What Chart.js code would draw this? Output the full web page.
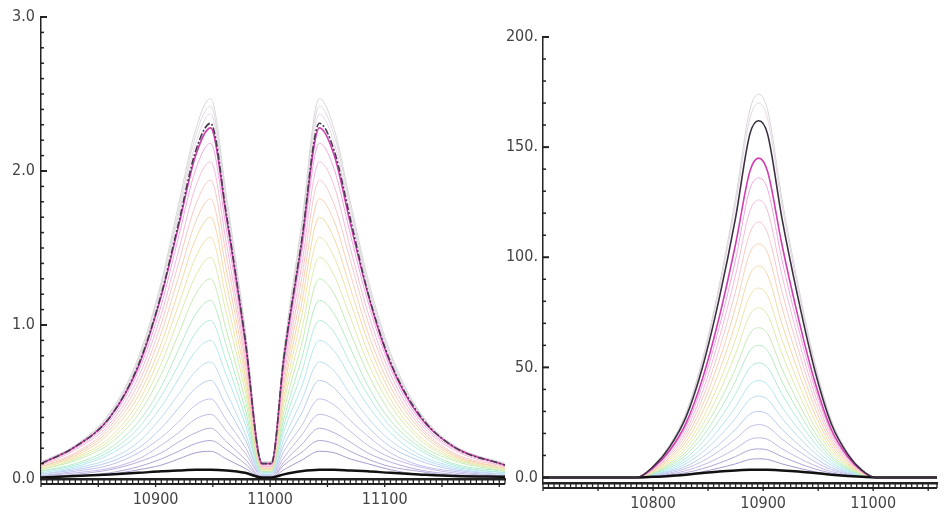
<!DOCTYPE html>
<html>
<head>
<meta charset="utf-8">
<script src="https://cdn.jsdelivr.net/npm/chart.js@4.4.1/dist/chart.umd.min.js"></script>
<style>
  body { margin: 0; background: #fff; }
  #wrap { position: relative; width: 948px; height: 523px; overflow: hidden; }
  #left { position: absolute; left: 0; top: 0; }
  #right { position: absolute; left: 500px; top: 0; }
</style>
</head>
<body>
<div id="wrap">
  <canvas id="left" width="516" height="523"></canvas>
  <canvas id="right" width="448" height="523"></canvas>
</div>
<script>
// ---- left panel: two peaks with a dip near 11000 ----
const leftX = [10800, 10830, 10860, 10885, 10905, 10920, 10935, 10948, 10962, 10978, 10993,
               11001, 11012, 11027, 11043, 11056, 11070, 11085, 11105, 11130, 11160, 11205];
const L01 = [0.11,0.22,0.43,0.79,1.28,1.78,2.27,2.47,1.83,0.99,0.11,0.11,0.84,1.63,2.47,2.27,1.80,1.31,0.82,0.44,0.22,0.10];
const L02 = [0.11,0.22,0.42,0.77,1.26,1.74,2.23,2.42,1.79,0.97,0.11,0.11,0.82,1.60,2.42,2.23,1.77,1.28,0.80,0.44,0.22,0.10];
const L03 = [0.11,0.21,0.41,0.76,1.23,1.71,2.18,2.37,1.75,0.95,0.11,0.11,0.81,1.56,2.37,2.18,1.73,1.26,0.78,0.43,0.21,0.09];
const L04 = [0.10,0.21,0.40,0.74,1.20,1.66,2.13,2.31,1.71,0.92,0.10,0.10,0.79,1.52,2.31,2.13,1.69,1.22,0.76,0.42,0.21,0.09];
const L05 = [0.10,0.21,0.40,0.73,1.19,1.64,2.10,2.28,1.69,0.91,0.10,0.10,0.78,1.50,2.28,2.10,1.66,1.21,0.75,0.41,0.21,0.09];
const L06 = [0.10,0.20,0.38,0.70,1.13,1.57,2.01,2.18,1.61,0.87,0.09,0.09,0.74,1.44,2.18,2.01,1.59,1.16,0.72,0.39,0.20,0.09];
const L07 = [0.09,0.19,0.36,0.66,1.07,1.48,1.90,2.06,1.52,0.82,0.08,0.08,0.70,1.36,2.06,1.90,1.50,1.09,0.68,0.37,0.19,0.08];
const L08 = [0.09,0.17,0.34,0.62,1.01,1.40,1.78,1.94,1.44,0.78,0.08,0.08,0.66,1.28,1.94,1.78,1.42,1.03,0.64,0.35,0.17,0.08];
const L09 = [0.08,0.16,0.32,0.58,0.95,1.31,1.67,1.82,1.35,0.73,0.07,0.07,0.62,1.20,1.82,1.67,1.33,0.96,0.60,0.33,0.16,0.07];
const L10 = [0.08,0.15,0.30,0.54,0.88,1.22,1.56,1.70,1.26,0.68,0.07,0.07,0.58,1.12,1.70,1.56,1.24,0.90,0.56,0.31,0.15,0.07];
const L11 = [0.07,0.14,0.27,0.50,0.82,1.13,1.44,1.57,1.16,0.63,0.06,0.06,0.53,1.04,1.57,1.44,1.15,0.83,0.52,0.28,0.14,0.06];
const L12 = [0.06,0.13,0.25,0.46,0.75,1.04,1.32,1.44,1.07,0.58,0.06,0.06,0.49,0.95,1.44,1.32,1.05,0.76,0.48,0.26,0.13,0.06];
const L13 = [0.06,0.12,0.23,0.42,0.68,0.94,1.20,1.30,0.96,0.52,0.05,0.05,0.44,0.86,1.30,1.20,0.95,0.69,0.43,0.23,0.12,0.05];
const L14 = [0.05,0.10,0.20,0.37,0.60,0.84,1.07,1.16,0.86,0.46,0.05,0.05,0.39,0.77,1.16,1.07,0.85,0.61,0.38,0.21,0.10,0.05];
const L15 = [0.05,0.09,0.18,0.33,0.54,0.74,0.95,1.03,0.76,0.41,0.04,0.04,0.35,0.68,1.03,0.95,0.75,0.55,0.34,0.19,0.09,0.04];
const L16 = [0.04,0.08,0.16,0.29,0.47,0.65,0.83,0.90,0.67,0.36,0.04,0.04,0.31,0.59,0.90,0.83,0.66,0.48,0.30,0.16,0.08,0.04];
const L17 = [0.03,0.07,0.13,0.24,0.40,0.55,0.70,0.76,0.56,0.30,0.03,0.03,0.26,0.50,0.76,0.70,0.55,0.40,0.25,0.14,0.07,0.03];
const L18 = [0.03,0.06,0.11,0.20,0.33,0.46,0.59,0.64,0.47,0.26,0.03,0.03,0.22,0.42,0.64,0.59,0.47,0.34,0.21,0.12,0.06,0.03];
const L19 = [0.02,0.05,0.09,0.17,0.27,0.37,0.48,0.52,0.38,0.21,0.02,0.02,0.18,0.34,0.52,0.48,0.38,0.28,0.17,0.09,0.05,0.02];
const L20 = [0.02,0.04,0.07,0.13,0.22,0.30,0.39,0.42,0.31,0.17,0.02,0.02,0.14,0.28,0.42,0.39,0.31,0.22,0.14,0.08,0.04,0.02];
const L21 = [0.01,0.03,0.06,0.11,0.17,0.24,0.30,0.33,0.24,0.13,0.01,0.01,0.11,0.22,0.33,0.30,0.24,0.17,0.11,0.06,0.03,0.01];
const L22 = [0.01,0.02,0.04,0.08,0.13,0.18,0.23,0.25,0.19,0.10,0.01,0.01,0.09,0.17,0.25,0.23,0.18,0.13,0.08,0.05,0.02,0.01];
const L23 = [0.01,0.02,0.03,0.06,0.09,0.13,0.17,0.18,0.13,0.07,0.01,0.01,0.06,0.12,0.18,0.17,0.13,0.10,0.06,0.03,0.02,0.01];
const L24 = [0.01,0.02,0.03,0.04,0.05,0.055,0.06,0.06,0.055,0.04,0.01,0.01,0.03,0.05,0.06,0.06,0.055,0.05,0.04,0.03,0.02,0.015];
const leftXTicks = [10900, 11000, 11100];
const leftYTicks = [0, 1, 2, 3];
const leftYLabels = ['0.0', '1.0', '2.0', '3.0'];

// ---- right panel: single peak near 10900 ----
const rightX = [10700, 10785, 10800, 10815, 10830, 10845, 10860, 10875, 10888, 10896,
                10904, 10917, 10932, 10947, 10962, 10977, 10990, 11002, 11058];
const R01 = [0,0,5.2,14.8,29.6,53.9,87,127,167,174,167,127,87,52.2,26.1,11.3,3.5,0,0];
const R02 = [0,0,5.1,14.5,28.9,52.7,85,124,163,170,163,124,85,51,25.5,11,3.4,0,0];
const R03 = [0,0,4.9,13.8,27.5,50.2,81,118,156,162,156,118,81,48.6,24.3,10.5,3.2,0,0];
const R04 = [0,0,4.4,12.3,24.7,45,72.5,106,139,145,139,106,72.5,43.5,21.8,9.4,2.9,0,0];
const R05 = [0,0,4.1,11.6,23.1,42.2,68,99,131,136,131,99,68,40.8,20.4,8.8,2.7,0,0];
const R06 = [0,0,3.8,10.7,21.4,39.1,63,92,121,126,121,92,63,37.8,18.9,8.2,2.5,0,0];
const R07 = [0,0,3.5,9.9,19.7,36,58,84.7,111,116,111,84.7,58,34.8,17.4,7.5,2.3,0,0];
const R08 = [0,0,3.2,9,18,32.9,53,77.4,102,106,102,77.4,53,31.8,15.9,6.9,2.1,0,0];
const R09 = [0,0,2.9,8.2,16.3,29.8,48,70,92,96,92,70,48,28.8,14.4,6.2,1.9,0,0];
const R10 = [0,0,2.6,7.3,14.6,26.7,43,62.8,82.6,86,82.6,62.8,43,25.8,12.9,5.6,1.7,0,0];
const R11 = [0,0,2.3,6.5,13.1,23.9,38.5,56.2,73.9,77,73.9,56.2,38.5,23.1,11.6,5,1.5,0,0];
const R12 = [0,0,2,5.8,11.6,21.1,34,49.6,65.3,68,65.3,49.6,34,20.4,10.2,4.4,1.4,0,0];
const R13 = [0,0,1.8,5.1,10.2,18.6,30,43.8,57.6,60,57.6,43.8,30,18,9,3.9,1.2,0,0];
const R14 = [0,0,1.6,4.4,8.8,16.1,26,38,49.9,52,49.9,38,26,15.6,7.8,3.4,1,0,0];
const R15 = [0,0,1.3,3.7,7.5,13.6,22,32.1,42.2,44,42.2,32.1,22,13.2,6.6,2.9,0.9,0,0];
const R16 = [0,0,1.1,3.1,6.3,11.5,18.5,27,35.5,37,35.5,27,18.5,11.1,5.6,2.4,0.7,0,0];
const R17 = [0,0,0.9,2.6,5.1,9.3,15,21.9,28.8,30,28.8,21.9,15,9,4.5,2,0.6,0,0];
const R18 = [0,0,0.7,2,4.1,7.4,12,17.5,23,24,23,17.5,12,7.2,3.6,1.6,0.5,0,0];
const R19 = [0,0,0.5,1.5,3.1,5.6,9,13.1,17.3,18,17.3,13.1,9,5.4,2.7,1.2,0.4,0,0];
const R20 = [0,0,0.4,1.1,2.2,4,6.5,9.5,12.5,13,12.5,9.5,6.5,3.9,2,0.8,0.3,0,0];
const R21 = [0,0,0.3,0.7,1.4,2.6,4.3,6.2,8.2,8.5,8.2,6.2,4.3,2.6,1.3,0.6,0.2,0,0];
const R22 = [0,0,0.3,0.7,1.3,2,2.7,3.2,3.5,3.5,3.5,3.2,2.7,2,1.3,0.7,0.3,0,0];
const rightXTicks = [10800, 10900, 11000];
const rightYTicks = [0, 50, 100, 150, 200];
const rightYLabels = ['0.0', '50.', '100.', '150.', '200.'];

// line colours, top curve to bottom curve
const leftColors = ['#d6d6d6', '#dedade', '#e6d6e6', '#4a3a50', '#d040b0', '#f0a8dc', '#f4bcd8',
  '#f8c8c8', '#f8d0b4', '#f4d8a8', '#eee4a8', '#dcecac', '#c4ecb4', '#b4ecc4', '#b0ecdc',
  '#b4e6f0', '#bcdcf4', '#b8ccf0', '#c0c0ec', '#c4b8e4', '#b8acdc', '#b0a4d4', '#a898cc', '#111111'];
const rightColors = ['#d6d6d6', '#e2d8e2', '#3a3040', '#d040b0', '#f0a8dc', '#f4bcd8',
  '#f8c8c8', '#f8d0b4', '#f4d8a8', '#eee4a8', '#dcecac', '#c4ecb4', '#b4ecc4', '#b0ecdc',
  '#b4e6f0', '#bcdcf4', '#b8ccf0', '#c0c0ec', '#c4b8e4', '#b0a4d4', '#a898cc', '#111111'];

const leftCurves = [L01, L02, L03, L04, L05, L06, L07, L08, L09, L10, L11, L12,
                    L13, L14, L15, L16, L17, L18, L19, L20, L21, L22, L23, L24];
const rightCurves = [R01, R02, R03, R04, R05, R06, R07, R08, R09, R10, R11,
                     R12, R13, R14, R15, R16, R17, R18, R19, R20, R21, R22];

const FONT = "'Liberation Sans Narrow', 'DejaVu Sans Condensed', 'Liberation Sans', sans-serif";

// inward y ticks and the dense x tick band under the axis
const axisMarks = {
  id: 'axisMarks',
  afterDraw(chart, args, opts) {
    const ctx = chart.ctx, xs = chart.scales.x, ys = chart.scales.y;
    ctx.save();
    ctx.strokeStyle = '#222';
    ys.ticks.forEach(t => {
      if (t.value < 0) return;
      const py = ys.getPixelForValue(t.value);
      const major = opts.yMajor.some(m => Math.abs(m - t.value) < 1e-6);
      ctx.lineWidth = major ? 2 : 1.5;
      ctx.beginPath();
      ctx.moveTo(ys.right, py);
      ctx.lineTo(ys.right + (major ? 6 : 3), py);
      ctx.stroke();
    });
    const top = xs.top, bot = xs.top + 5;
    ctx.lineWidth = 1.3;
    xs.ticks.forEach(t => {
      const px = xs.getPixelForValue(t.value);
      const major = t.value % 50 === 0;
      ctx.beginPath();
      ctx.moveTo(px, top);
      ctx.lineTo(px, major ? bot + 3 : bot);
      ctx.stroke();
    });
    ctx.lineWidth = 2;
    ctx.beginPath();
    ctx.moveTo(xs.left, bot);
    ctx.lineTo(xs.right, bot);
    ctx.stroke();
    ctx.restore();
  }
};

function makeDatasets(xs, curves, colors, darkIdx, magIdx) {
  return curves.map((ys, i) => {
    const last = i === curves.length - 1;
    return {
      data: ys.map((v, j) => ({ x: xs[j], y: v })),
      borderColor: colors[i],
      borderWidth: last ? 2.5 : (i === darkIdx || i === magIdx ? 1.6 : 1),
      borderDash: i === darkIdx && darkIdx === 3 ? [7, 2, 2, 2] : [],
      pointRadius: 0,
      fill: false,
      cubicInterpolationMode: 'monotone',
      order: (last || i === darkIdx) ? 0 : (i === magIdx ? 1 : 2)
    };
  });
}

function labelFrom(ticks, labels) {
  return v => {
    const i = ticks.findIndex(t => Math.abs(t - v) < 1e-6);
    return i >= 0 ? labels[i] : '';
  };
}

function makeChart(id, xs, curves, colors, cfg) {
  return new Chart(document.getElementById(id), {
    type: 'line',
    data: { datasets: makeDatasets(xs, curves, colors, cfg.darkIdx, cfg.magIdx) },
    options: {
      responsive: false,
      animation: false,
      devicePixelRatio: 1,
      layout: { padding: { top: cfg.padTop, right: cfg.padRight, left: 0, bottom: 0 } },
      plugins: { legend: { display: false }, tooltip: { enabled: false },
                 axisMarks: { yMajor: cfg.yTicks } },
      scales: {
        x: {
          type: 'linear', min: cfg.xMin, max: cfg.xMax,
          afterFit: s => { s.height = cfg.xHeight; },
          grid: { drawOnChartArea: false, drawTicks: false },
          border: { display: true, color: '#222', width: 2.5 },
          ticks: {
            stepSize: 5, autoSkip: false, maxRotation: 0, minRotation: 0, padding: 11,
            color: '#444', font: { family: FONT, size: 16 },
            callback: v => (cfg.xTicks.includes(v) ? String(v) : '')
          }
        },
        y: {
          min: cfg.yMin, max: cfg.yMax,
          afterFit: s => { s.width = cfg.yWidth; },
          // minor ticks from zero up to the top label
          afterBuildTicks: s => {
            const t = [];
            const n = Math.round(cfg.yMax / cfg.yStep);
            for (let k = 0; k <= n; k++) t.push({ value: +(k * cfg.yStep).toFixed(4) });
            s.ticks = t;
          },
          grid: { drawOnChartArea: false, drawTicks: false },
          border: { display: true, color: '#222', width: 1.5 },
          ticks: {
            autoSkip: false, padding: cfg.yPad,
            color: '#444', font: { family: FONT, size: 16 },
            callback: labelFrom(cfg.yTicks, cfg.yLabels)
          }
        }
      }
    },
    plugins: [axisMarks]
  });
}

makeChart('left', leftX, leftCurves, leftColors, {
  darkIdx: 3, magIdx: 4, padTop: 17, padRight: 3, xMin: 10800, xMax: 11205,
  xHeight: 44, yMin: 0, yMax: 3, yStep: 0.1, yWidth: 41, yPad: 6,
  xTicks: leftXTicks, yTicks: leftYTicks, yLabels: leftYLabels
});

makeChart('right', rightX, rightCurves, rightColors, {
  darkIdx: 2, magIdx: 3, padTop: 37, padRight: 0, xMin: 10700, xMax: 11058,
  xHeight: 40, yMin: -2.5, yMax: 200, yStep: 10, yWidth: 43, yPad: 5,
  xTicks: rightXTicks, yTicks: rightYTicks, yLabels: rightYLabels
});
</script>
</body>
</html>
